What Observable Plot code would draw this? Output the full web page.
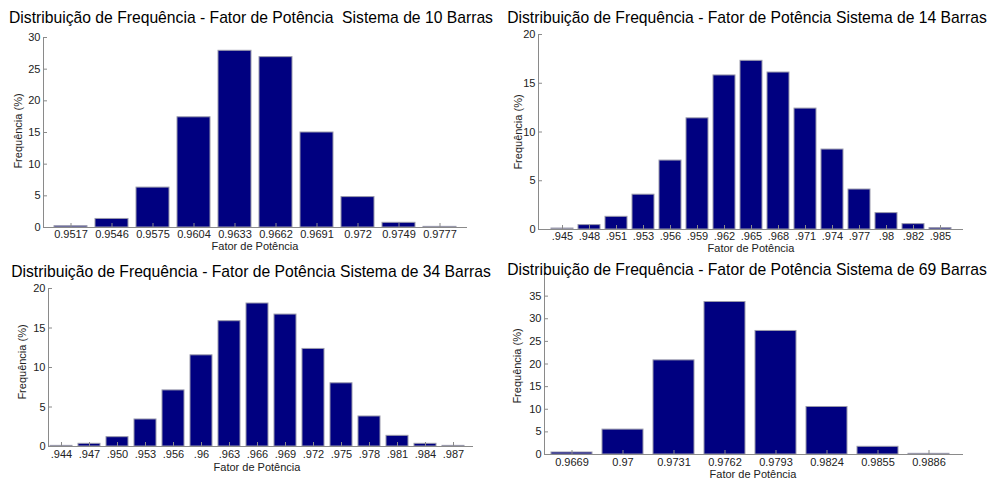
<!DOCTYPE html>
<html>
<head>
<meta charset="utf-8">
<script src="https://cdn.jsdelivr.net/npm/d3@7"></script>
<script src="https://cdn.jsdelivr.net/npm/@observablehq/plot@0.6"></script>
<style>
  body { margin: 0; background: #fff; }
  #root { position: relative; width: 993px; height: 480px; overflow: hidden; font-family: 'Liberation Sans', Arial, sans-serif; background: #fff; }
  .panel { position: absolute; }
  .panel svg text { font-size: 11px; font-family: 'Liberation Sans', Arial, sans-serif; }
  .title { position: absolute; font-size: 15.7px; white-space: pre; transform: translate(-50%, -50%); color: #000; line-height: 1; }
  .ylab { position: absolute; font-size: 11px; white-space: pre; transform: translate(-50%, -50%) rotate(-90deg); color: #222; line-height: 1; }
  .xlab { position: absolute; font-size: 11px; white-space: pre; transform: translate(-50%, -50%); color: #222; line-height: 1; }
</style>
</head>
<body>
<div id="root"></div>
<script>
// ---- Data ----
const p10Categories = ["0.9517","0.9546","0.9575","0.9604","0.9633","0.9662","0.9691","0.972","0.9749","0.9777"];
const p10Values     = [0.2, 1.35, 6.3, 17.4, 27.9, 26.9, 15.0, 4.8, 0.74, 0.1];
const p10YTicks     = [0, 5, 10, 15, 20, 25, 30];

const p14Categories = [".945",".948",".951",".953",".956",".959",".962",".965",".968",".971",".974",".977",".98",".982",".985"];
const p14Values     = [0.1, 0.45, 1.3, 3.57, 7.07, 11.4, 15.8, 17.3, 16.1, 12.4, 8.2, 4.1, 1.68, 0.55, 0.14];
const p14YTicks     = [0, 5, 10, 15, 20];

const p34Categories = [".944",".947",".950",".953",".956",".96",".963",".966",".969",".972",".975",".978",".981",".984",".987"];
const p34Values     = [0.08, 0.34, 1.18, 3.42, 7.1, 11.54, 15.86, 18.1, 16.7, 12.35, 8.0, 3.8, 1.35, 0.34, 0.08];
const p34YTicks     = [0, 5, 10, 15, 20];

const p69Categories = ["0.9669","0.97","0.9731","0.9762","0.9793","0.9824","0.9855","0.9886"];
const p69Values     = [0.44, 5.5, 20.8, 33.7, 27.3, 10.5, 1.7, 0.15];
const p69YTicks     = [0, 5, 10, 15, 20, 25, 30, 35];

const titleText = "Distribuição de Frequência - Fator de Potência";
const xLabelText = "Fator de Potência";
const yLabelText = "Frequência (%)";

const root = document.getElementById("root");
const axisColor = "#8a8a8a";
const textColor = "#222";

function addText(cls, text, x, y) {
  const d = document.createElement("div");
  d.className = cls;
  d.textContent = text;
  d.style.left = x + "px";
  d.style.top = y + "px";
  root.appendChild(d);
}

function panel(cfg) {
  const data = cfg.categories.map((c, i) => ({c, v: cfg.values[i]}));
  const chart = Plot.plot({
    width: cfg.width, height: cfg.height,
    marginLeft: cfg.mL, marginRight: cfg.mR, marginTop: cfg.mT, marginBottom: cfg.mB,
    style: {fontFamily: "'Liberation Sans', Arial, sans-serif", fontSize: "11px", background: "transparent", overflow: "visible"},
    x: {type: "band", domain: cfg.categories, paddingInner: 0.2, paddingOuter: cfg.pOuter, align: cfg.align, label: null},
    y: {domain: [0, cfg.yMax], label: null},
    marks: [
      Plot.barY(data, {x: "c", y: "v", fill: "#000080", stroke: "#9a9aac", strokeWidth: 1}),
      Plot.ruleY([0], {stroke: axisColor}),
      Plot.frame({anchor: "left", stroke: axisColor}),
      Plot.axisX({tickSize: -4, tickFormat: () => "", color: axisColor, label: null}),
      Plot.axisX({tickSize: 0, tickPadding: cfg.xPad, color: textColor, fontSize: 11, label: null}),
      Plot.axisY({ticks: cfg.yTicks, tickSize: -4, tickFormat: () => "", color: axisColor, label: null}),
      Plot.axisY({ticks: cfg.yTicks, tickSize: 0, tickPadding: 3, color: textColor, fontSize: 11, label: null})
    ]
  });
  const wrap = document.createElement("div");
  wrap.className = "panel";
  wrap.style.left = cfg.left + "px";
  wrap.style.top = cfg.top + "px";
  wrap.appendChild(chart);
  root.appendChild(wrap);
  addText("title", cfg.title, cfg.titleX, cfg.titleY);
  addText("ylab", yLabelText, cfg.yLabX, cfg.yLabY);
  addText("xlab", xLabelText, cfg.xLabX, cfg.xLabY);
}

panel({left: 0, top: 0, width: 496, height: 255, mL: 43, mR: 29, mT: 37, mB: 28,
  categories: p10Categories, values: p10Values, yMax: 30, yTicks: p10YTicks, pOuter: 0.263, align: 0.5, xPad: 3,
  title: titleText + "  Sistema de 10 Barras", titleX: 251, titleY: 18,
  yLabX: 18, yLabY: 131, xLabX: 255, xLabY: 246});

panel({left: 496, top: 0, width: 497, height: 255, mL: 42, mR: 30, mT: 34, mB: 26,
  categories: p14Categories, values: p14Values, yMax: 20, yTicks: p14YTicks, pOuter: 0.314, align: 0.5, xPad: 3,
  title: titleText + " Sistema de 14 Barras", titleX: 747, titleY: 18,
  yLabX: 518, yLabY: 132, xLabX: 751, xLabY: 248});

panel({left: 0, top: 255, width: 496, height: 225, mL: 48, mR: 23, mT: 33, mB: 34,
  categories: p34Categories, values: p34Values, yMax: 20, yTicks: p34YTicks, pOuter: 0.135, align: 0.17, xPad: 4,
  title: titleText + " Sistema de 34 Barras", titleX: 251, titleY: 272,
  yLabX: 22, yLabY: 362, xLabX: 257, xLabY: 467});

panel({left: 496, top: 255, width: 497, height: 225, mL: 48, mR: 30, mT: 18, mB: 26,
  categories: p69Categories, values: p69Values, yMax: 40, yTicks: p69YTicks, pOuter: 0.178, align: 0.31, xPad: 4,
  title: titleText + " Sistema de 69 Barras", titleX: 747, titleY: 270,
  yLabX: 517, yLabY: 366, xLabX: 753, xLabY: 474});
</script>
</body>
</html>
